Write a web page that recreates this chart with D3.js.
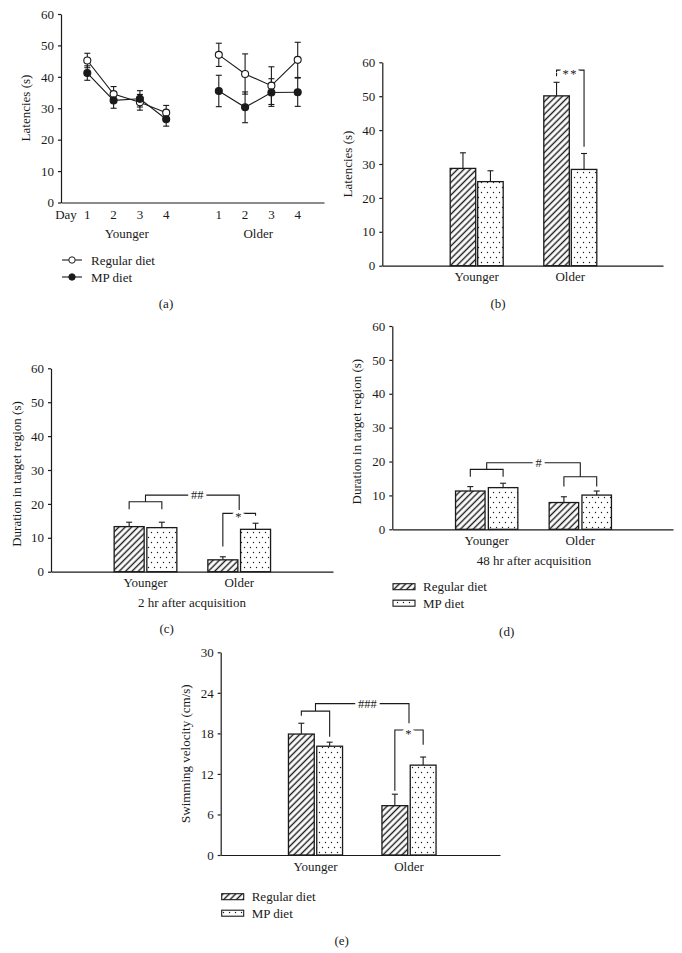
<!DOCTYPE html>
<html>
<head>
<meta charset="utf-8">
<script src="https://cdn.jsdelivr.net/npm/d3@7"></script>
<style>
  body { margin: 0; background: #fff; }
  svg { display: block; }
  text { font-family: "Liberation Serif", "DejaVu Serif", serif; fill: #1a1a1a; }
</style>
</head>
<body>
<div id="chart"></div>
<script>
// ---- data ----
const groups = ['Younger', 'Older'];
const seriesNames = ['Regular diet', 'MP diet'];
const days = [1, 2, 3, 4];

// (a) latencies by day
const youngRegular = [45.2, 34.5, 31.9, 28.6];
const youngRegularErr = [2.3, 2.4, 2.5, 2.3];
const youngMP = [41.2, 32.5, 33.0, 26.5];
const youngMPErr = [2.3, 2.5, 2.6, 2.2];
const oldRegular = [47.0, 40.9, 37.2, 45.4];
const oldRegularErr = [3.7, 6.4, 6.0, 5.6];
const oldMP = [35.5, 30.3, 35.0, 35.1];
const oldMPErr = [5.0, 4.9, 4.4, 4.5];

// (b) latencies
const bRegular = [28.7, 50.1], bRegularErr = [4.6, 4.0];
const bMP = [24.8, 28.4], bMPErr = [3.2, 4.7];
// (c) duration 2 hr
const cRegular = [13.3, 3.5], cRegularErr = [1.3, 0.9];
const cMP = [13.0, 12.5], cMPErr = [1.6, 1.8];
// (d) duration 48 hr
const dRegular = [11.3, 7.9], dRegularErr = [1.3, 1.7];
const dMP = [12.3, 10.1], dMPErr = [1.3, 1.2];
// (e) swimming velocity
const eRegular = [17.9, 7.3], eRegularErr = [1.6, 1.7];
const eMP = [16.1, 13.3], eMPErr = [0.6, 1.2];

const ticks60 = [0, 10, 20, 30, 40, 50, 60];
const ticks30 = [0, 6, 12, 18, 24, 30];

const ink = '#1a1a1a';
const fontSize = 13;
const svg = d3.select('#chart').append('svg').attr('width', 682).attr('height', 953);

// patterns
const defs = svg.append('defs');
const hatch = defs.append('pattern')
    .attr('id', 'hatch')
    .attr('patternUnits', 'userSpaceOnUse')
    .attr('width', 4.5)
    .attr('height', 4.5)
    .attr('patternTransform', 'rotate(45)');
hatch.append('rect').attr('width', 4.5).attr('height', 4.5).attr('fill', '#fff');
hatch.append('line')
    .attr('x1', 2.25).attr('y1', 0).attr('x2', 2.25).attr('y2', 4.5)
    .attr('stroke', ink).attr('stroke-width', 1.4);

const dots = defs.append('pattern')
    .attr('id', 'dots')
    .attr('patternUnits', 'userSpaceOnUse')
    .attr('width', 6)
    .attr('height', 10);
dots.append('rect').attr('width', 6).attr('height', 10).attr('fill', '#fff');
dots.append('circle').attr('cx', 1.5).attr('cy', 2.5).attr('r', 0.7).attr('fill', ink);
dots.append('circle').attr('cx', 4.5).attr('cy', 7.5).attr('r', 0.7).attr('fill', ink);

const fills = ['url(#hatch)', 'url(#dots)'];

function styleAxis(g) {
    g.attr('font-family', null).attr('font-size', null);
    g.selectAll('path, line').attr('stroke', ink).attr('stroke-width', 1.2);
    g.selectAll('text').style('font-size', fontSize + 'px');
}

function yAxis(y, x0, values) {
    svg.append('g')
        .attr('transform', `translate(${x0},0)`)
        .call(d3.axisLeft(y).tickValues(values).tickSize(3).tickPadding(4).tickSizeOuter(0))
        .call(styleAxis);
}

function baseLine(x0, x1, y0) {
    const x = d3.scaleLinear().range([x0, x1]);
    svg.append('g')
        .attr('transform', `translate(0,${y0})`)
        .call(d3.axisBottom(x).tickValues([]).tickSizeOuter(0))
        .call(styleAxis);
}

function yTitle(text, x, cy) {
    svg.append('text')
        .attr('transform', `translate(${x},${cy}) rotate(-90)`)
        .attr('text-anchor', 'middle')
        .attr('dy', '0.35em')
        .style('font-size', fontSize + 'px')
        .text(text);
}

function label(text, x, y, anchor = 'middle', size = fontSize) {
    svg.append('text')
        .attr('x', x).attr('y', y)
        .attr('dy', '0.35em')
        .attr('text-anchor', anchor)
        .style('font-size', size + 'px')
        .text(text);
}

// ---- (a) line chart ----
(function () {
    const x = d3.scaleLinear().domain([0, 10]).range([61, 324]);
    const y = d3.scaleLinear().domain([0, 60]).range([202.5, 14]);
    yAxis(y, 61, ticks60);
    baseLine(61, 324, 202.5);

    const sets = [
        {offset: 0, vals: youngRegular, errs: youngRegularErr, open: true},
        {offset: 0, vals: youngMP, errs: youngMPErr, open: false},
        {offset: 5, vals: oldRegular, errs: oldRegularErr, open: true},
        {offset: 5, vals: oldMP, errs: oldMPErr, open: false}
    ];

    const line = d3.line().x(d => x(d.i)).y(d => y(d.v));

    sets.forEach(s => {
        const pts = days.map((d, k) => ({i: d + s.offset, v: s.vals[k], e: s.errs[k]}));
        svg.append('path')
            .datum(pts)
            .attr('fill', 'none')
            .attr('stroke', ink)
            .attr('stroke-width', 1.1)
            .attr('d', line);
        const eb = svg.append('g').attr('stroke', ink).attr('stroke-width', 1.1);
        pts.forEach(p => {
            eb.append('line').attr('x1', x(p.i)).attr('x2', x(p.i))
                .attr('y1', y(p.v - p.e)).attr('y2', y(p.v + p.e));
            [p.v - p.e, p.v + p.e].forEach(v => {
                eb.append('line').attr('x1', x(p.i) - 3).attr('x2', x(p.i) + 3)
                    .attr('y1', y(v)).attr('y2', y(v));
            });
        });
    });
    sets.forEach(s => {
        svg.selectAll(null)
            .data(days.map((d, k) => ({i: d + s.offset, v: s.vals[k]})))
            .enter()
            .append('circle')
            .attr('cx', d => x(d.i))
            .attr('cy', d => y(d.v))
            .attr('r', 3.5)
            .attr('fill', s.open ? '#fff' : ink)
            .attr('stroke', ink)
            .attr('stroke-width', 1.1);
    });

    label('Day', x(0) + 5, 214);
    days.forEach(d => {
        label(d, x(d), 214);
        label(d, x(d + 5), 214);
    });
    label('Younger', x(2.5), 233);
    label('Older', x(7.5), 233);
    yTitle('Latencies (s)', 25.5, 108);

    // legend
    [true, false].forEach((open, k) => {
        const ly = 260 + k * 17;
        svg.append('line').attr('x1', 62).attr('x2', 82).attr('y1', ly).attr('y2', ly)
            .attr('stroke', ink).attr('stroke-width', 1.1);
        svg.append('circle').attr('cx', 72).attr('cy', ly).attr('r', 3.2)
            .attr('fill', open ? '#fff' : ink).attr('stroke', ink);
        label(seriesNames[k], 91, ly, 'start');
    });
    label('(a)', 166, 303);
})();

// ---- bar panels ----
function barPanel(cfg) {
    const y = d3.scaleLinear().domain(cfg.domain).range([cfg.bottom, cfg.top]);
    const x = d3.scalePoint().domain(groups).range(cfg.centers);
    const w = cfg.barWidth, gap = cfg.gap;
    const barX = (g, s) => s === 0 ? x(g) - gap / 2 - w : x(g) + gap / 2;
    const barC = (g, s) => barX(g, s) + w / 2;

    yAxis(y, cfg.left, cfg.ticks);
    baseLine(cfg.left, cfg.right, cfg.bottom);

    cfg.series.forEach((s, si) => {
        const data = groups.map((g, k) => ({g, v: s.vals[k], e: s.errs[k]}));
        const eb = svg.append('g').attr('stroke', ink).attr('stroke-width', 1.1);
        data.forEach(d => {
            eb.append('line').attr('x1', barC(d.g, si)).attr('x2', barC(d.g, si))
                .attr('y1', y(d.v)).attr('y2', y(d.v + d.e));
            eb.append('line').attr('x1', barC(d.g, si) - 3).attr('x2', barC(d.g, si) + 3)
                .attr('y1', y(d.v + d.e)).attr('y2', y(d.v + d.e));
        });
        svg.selectAll(null)
            .data(data)
            .enter()
            .append('rect')
            .attr('x', d => barX(d.g, si))
            .attr('y', d => y(d.v))
            .attr('width', w)
            .attr('height', d => y(0) - y(d.v))
            .attr('fill', fills[si])
            .attr('stroke', ink)
            .attr('stroke-width', 1.3);
    });

    groups.forEach(g => label(g, x(g), cfg.bottom + 11));

    const br = svg.append('g').attr('fill', 'none').attr('stroke', ink).attr('stroke-width', 1.1);
    const sigText = (t, tx, ty) => {
        svg.append('text')
            .attr('x', tx).attr('y', y(ty))
            .attr('dy', t.indexOf('*') >= 0 ? '0.62em' : '0.35em')
            .attr('text-anchor', 'middle')
            .attr('stroke', '#fff')
            .attr('stroke-width', 6)
            .attr('paint-order', 'stroke')
            .attr('letter-spacing', t.indexOf('*') >= 0 ? 1.5 : 0)
            .style('font-size', '12.5px')
            .text(t);
    };
    (cfg.pairs || []).forEach(p => {
        const xl = barC(p.group, 0), xr = barC(p.group, 1);
        br.append('path').attr('d', `M${xl},${y(p.dropL)}V${y(p.level)}H${xr}V${y(p.dropR)}`);
        if (p.text) sigText(p.text, x(p.group), p.level);
    });
    (cfg.links || []).forEach(l => {
        const xl = x(groups[0]), xr = x(groups[1]);
        br.append('path').attr('d', `M${xl},${y(l.from)}V${y(l.level)}H${xr}V${y(l.dropR)}`);
        sigText(l.text, (xl + xr) / 2 + 5, l.level);
    });

    yTitle(cfg.title, cfg.titleX, (cfg.top + cfg.bottom) / 2 + (cfg.titleShift || 0));
    if (cfg.subtitle) label(cfg.subtitle, cfg.subX, cfg.bottom + 31);
    if (cfg.legend) {
        cfg.series.forEach((s, si) => {
            const ly = cfg.legend.y + si * 16.5;
            svg.append('rect')
                .attr('x', cfg.legend.x).attr('y', ly - 3)
                .attr('width', 22).attr('height', 6)
                .attr('fill', fills[si]).attr('stroke', ink).attr('stroke-width', 1.1);
            label(seriesNames[si], cfg.legend.x + 30, ly, 'start');
        });
    }
    label(cfg.letter, cfg.letterX, cfg.letterY);
}

barPanel({
    left: 382.3, right: 663, top: 62.3, bottom: 265.7, domain: [0, 60], ticks: ticks60,
    centers: [476.7, 570.3], barWidth: 25.5, gap: 2,
    series: [{vals: bRegular, errs: bRegularErr}, {vals: bMP, errs: bMPErr}],
    pairs: [{group: 'Older', level: 57.7, dropL: 55.9, dropR: 35.1, text: '**'}],
    title: 'Latencies (s)', titleX: 347.5,
    letter: '(b)', letterX: 498, letterY: 303
});

barPanel({
    left: 51, right: 333, top: 368.3, bottom: 571.7, domain: [0, 60], ticks: ticks60,
    centers: [145.5, 239.2], barWidth: 30, gap: 2.7,
    series: [{vals: cRegular, errs: cRegularErr}, {vals: cMP, errs: cMPErr}],
    pairs: [
        {group: 'Younger', level: 20.65, dropL: 18.4, dropR: 18.4},
        {group: 'Older', level: 17.2, dropL: 7.4, dropR: 16.5, text: '*'}
    ],
    links: [{from: 20.65, level: 22.6, dropR: 18.2, text: '##'}],
    title: 'Duration in target region (s)', titleX: 16.5, titleShift: 4,
    subtitle: '2 hr after acquisition', subX: 192,
    letter: '(c)', letterX: 166.7, letterY: 628
});

barPanel({
    left: 392.3, right: 673, top: 326, bottom: 529.3, domain: [0, 60], ticks: ticks60,
    centers: [486.7, 580.3], barWidth: 29.5, gap: 3.3,
    series: [{vals: dRegular, errs: dRegularErr}, {vals: dMP, errs: dMPErr}],
    pairs: [
        {group: 'Younger', level: 17.7, dropL: 15.5, dropR: 15.5},
        {group: 'Older', level: 15.5, dropL: 12.6, dropR: 12.6}
    ],
    links: [{from: 17.7, level: 19.65, dropR: 15.5, text: '#'}],
    title: 'Duration in target region (s)', titleX: 356.5, titleShift: 4,
    subtitle: '48 hr after acquisition', subX: 534,
    legend: {x: 393, y: 586.7},
    letter: '(d)', letterX: 506.7, letterY: 631.7
});

barPanel({
    left: 220.7, right: 500, top: 652.3, bottom: 855, domain: [0, 30], ticks: ticks30,
    centers: [315.5, 409], barWidth: 25.8, gap: 2.5,
    series: [{vals: eRegular, errs: eRegularErr}, {vals: eMP, errs: eMPErr}],
    pairs: [
        {group: 'Younger', level: 21.3, dropL: 20.6, dropR: 17.5},
        {group: 'Older', level: 18.5, dropL: 9.5, dropR: 16.3, text: '*'}
    ],
    links: [{from: 21.3, level: 22.4, dropR: 19.5, text: '###'}],
    title: 'Swimming velocity (cm/s)', titleX: 185,
    legend: {x: 221.7, y: 896.7},
    letter: '(e)', letterX: 341.7, letterY: 940
});
</script>
</body>
</html>
